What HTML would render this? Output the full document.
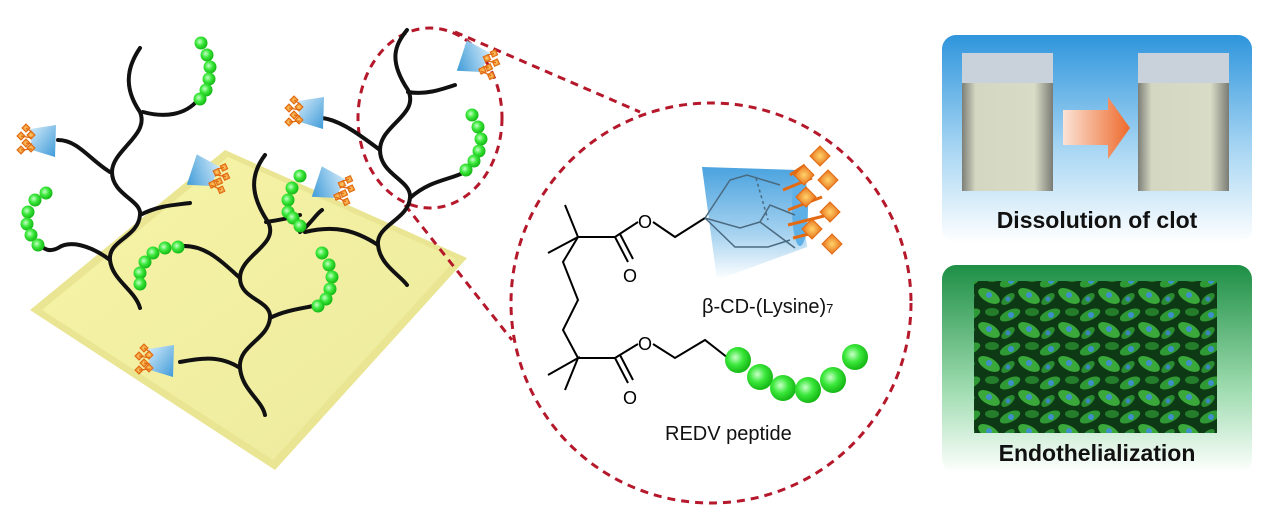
<!DOCTYPE html>
<html><head><meta charset="utf-8"><style>
html,body{margin:0;padding:0;background:#fff;}
svg{display:block;}
text{font-family:"Liberation Sans",sans-serif;}
</style></head><body>
<svg width="1271" height="508" viewBox="0 0 1271 508" xmlns="http://www.w3.org/2000/svg">
<defs>
<linearGradient id="plate" x1="0" y1="0" x2="1" y2="1"><stop offset="0" stop-color="#f7f4a8"/><stop offset="1" stop-color="#ecea9c"/></linearGradient>
<linearGradient id="cone" x1="0" y1="0" x2="1" y2="1"><stop offset="0" stop-color="#d6ecfa"/><stop offset="1" stop-color="#3d9ad8"/></linearGradient>
<linearGradient id="bigcone" x1="0" y1="0" x2="0" y2="1"><stop offset="0" stop-color="#4aa3df"/><stop offset="0.6" stop-color="#a8d3f0"/><stop offset="1" stop-color="#ffffff"/></linearGradient>
<radialGradient id="bead" cx="0.4" cy="0.4" r="0.6"><stop offset="0" stop-color="#c8ffc8"/><stop offset="0.5" stop-color="#3be83b"/><stop offset="1" stop-color="#16b816"/></radialGradient>
<radialGradient id="star" cx="0.5" cy="0.5" r="0.5"><stop offset="0" stop-color="#ffd36b"/><stop offset="1" stop-color="#e8701a"/></radialGradient>
<linearGradient id="pan1" x1="0" y1="0" x2="0" y2="1"><stop offset="0" stop-color="#2f95dc"/><stop offset="0.55" stop-color="#a8d6f3"/><stop offset="1" stop-color="#ffffff"/></linearGradient>
<linearGradient id="pan2" x1="0" y1="0" x2="0" y2="1"><stop offset="0" stop-color="#1e8f45"/><stop offset="0.6" stop-color="#9fdcb0"/><stop offset="1" stop-color="#ffffff"/></linearGradient>
<linearGradient id="arr" x1="0" y1="0" x2="1" y2="0"><stop offset="0" stop-color="#fbe3d6"/><stop offset="1" stop-color="#ee6a2c"/></linearGradient>
<linearGradient id="vial" x1="0" y1="0" x2="1" y2="0"><stop offset="0" stop-color="#7d7f78"/><stop offset="0.15" stop-color="#d4d8c2"/><stop offset="0.8" stop-color="#d8dcc6"/><stop offset="1" stop-color="#7a7b74"/></linearGradient>
<pattern id="cells" width="40" height="34" patternUnits="userSpaceOnUse">
<rect width="40" height="34" fill="#0d3a14"/>
<ellipse cx="10" cy="9" rx="11" ry="5" fill="#2f9a35" transform="rotate(-25 10 9)"/>
<ellipse cx="29" cy="24" rx="12" ry="6" fill="#3aa83a" transform="rotate(30 29 24)"/>
<ellipse cx="32" cy="6" rx="7" ry="4" fill="#247d2a"/>
<ellipse cx="8" cy="27" rx="8" ry="4" fill="#2a8c30" transform="rotate(-40 8 27)"/>
<circle cx="11" cy="9" r="3" fill="#3d8fc8"/><circle cx="29" cy="23" r="3" fill="#3f90c9"/><circle cx="8" cy="27" r="2.5" fill="#3b86bd"/>
</pattern>
<g id="sc">
<path d="M2,-11 L28,-15 L27,17 L4,10 Z" fill="url(#cone)"/>
<g fill="url(#star)" stroke="#e06a10" stroke-width="1">
<path d="M-6,-12 l4,-4 l4,4 l-4,4z"/><path d="M-11,-4 l4,-4 l4,4 l-4,4z"/><path d="M-6,3 l4,-4 l4,4 l-4,4z"/><path d="M-11,10 l4,-4 l4,4 l-4,4z"/><path d="M-1,-5 l4,-4 l4,4 l-4,4z"/><path d="M-1,8 l4,-4 l4,4 l-4,4z"/>
</g>
<g stroke="#e06a10" stroke-width="1.2"><line x1="-2" y1="-12" x2="4" y2="-8"/><line x1="-7" y1="-4" x2="4" y2="-2"/><line x1="-2" y1="3" x2="4" y2="4"/><line x1="-7" y1="10" x2="4" y2="9"/></g>
</g>
<g id="bd"><circle r="6.5" fill="url(#bead)"/></g>
</defs>

<polygon points="225,150 467,258 275,470 30,310" fill="#e9e592"/>
<polygon points="228,157 456,259 273,460 42,310" fill="url(#plate)"/>

<g fill="none" stroke="#b5182a" stroke-width="3" stroke-dasharray="8,6">
<ellipse cx="430" cy="118" rx="72" ry="90"/>
<circle cx="711" cy="303" r="200"/>
<line x1="455" y1="32" x2="640" y2="112"/>
<line x1="405" y1="205" x2="512" y2="340"/>
</g>

<g fill="none" stroke="#111" stroke-width="4" stroke-linecap="round">
<path d="M140,48 C125,70 125,90 140,112 C150,135 112,150 112,172 C112,195 142,200 140,215 C138,238 108,240 110,260 C112,280 135,290 140,308"/>
<path d="M143,112 C165,118 185,115 198,100"/>
<path d="M110,172 C90,160 78,140 58,140"/>
<path d="M140,215 C160,205 175,205 190,203"/>
<path d="M110,260 C90,245 70,240 58,248 C50,252 45,250 40,245"/>
<path d="M265,155 C250,175 250,195 268,222 C280,245 240,255 240,278 C240,300 272,300 270,318 C268,340 238,345 240,368 C242,390 262,400 265,415"/>
<path d="M266,222 C280,220 290,218 300,215"/>
<path d="M240,278 C220,260 205,245 182,246"/>
<path d="M270,318 C285,310 305,308 318,305"/>
<path d="M240,368 C220,355 200,358 180,362"/>
<path d="M407,30 C395,45 388,60 408,90 C420,115 380,125 380,150 C380,175 412,180 410,198 C408,220 376,225 378,245 C380,265 400,275 407,285"/>
<path d="M408,92 C425,95 440,90 455,85"/>
<path d="M380,150 C360,135 340,120 322,118"/>
<path d="M410,198 C430,180 450,180 465,172"/>
<path d="M378,245 C355,230 335,225 305,232"/>
<path d="M300,232 C310,225 315,215 322,210"/>
</g>

<use href="#sc" transform="translate(28,140)"/>
<use href="#sc" transform="translate(218,178) rotate(200) scale(1,-1)"/>
<use href="#sc" transform="translate(296,112)"/>
<use href="#sc" transform="translate(343,190) rotate(200) scale(1,-1)"/>
<use href="#sc" transform="translate(488,64) rotate(200) scale(1,-1)"/>
<use href="#sc" transform="translate(146,360)"/>

<g>
<use href="#bd" x="201" y="43"/><use href="#bd" x="207" y="55"/><use href="#bd" x="210" y="67"/><use href="#bd" x="209" y="79"/><use href="#bd" x="206" y="90"/><use href="#bd" x="200" y="99"/>
<use href="#bd" x="46" y="193"/><use href="#bd" x="35" y="200"/><use href="#bd" x="28" y="212"/><use href="#bd" x="27" y="224"/><use href="#bd" x="31" y="235"/><use href="#bd" x="38" y="245"/>
<use href="#bd" x="300" y="176"/><use href="#bd" x="292" y="188"/><use href="#bd" x="288" y="200"/><use href="#bd" x="288" y="212"/><use href="#bd" x="293" y="218"/><use href="#bd" x="300" y="226"/>
<use href="#bd" x="178" y="247"/><use href="#bd" x="165" y="248"/><use href="#bd" x="153" y="253"/><use href="#bd" x="145" y="262"/><use href="#bd" x="140" y="273"/><use href="#bd" x="140" y="284"/>
<use href="#bd" x="322" y="253"/><use href="#bd" x="329" y="265"/><use href="#bd" x="332" y="277"/><use href="#bd" x="330" y="289"/><use href="#bd" x="326" y="299"/><use href="#bd" x="318" y="306"/>
<use href="#bd" x="472" y="115"/><use href="#bd" x="478" y="127"/><use href="#bd" x="481" y="139"/><use href="#bd" x="479" y="151"/><use href="#bd" x="474" y="161"/><use href="#bd" x="466" y="170"/>
</g>

<g fill="none" stroke="#000" stroke-width="2">
<path d="M565,205 L578,237 L548,253 M578,237 L615,237 L638,222 M615,237 L628,262 M620,234 L633,259 M653,222 L675,237 L705,218"/>
<path d="M578,237 L563,262 L578,300 L563,330 L578,358"/>
<path d="M548,375 L578,358 L565,390 M578,358 L615,358 L638,344 M615,358 L628,383 M620,355 L633,380 M653,344 L675,358 L705,340 L728,358"/>
</g>
<g font-size="18" fill="#000"><text x="638" y="228">O</text><text x="623" y="282">O</text><text x="638" y="350">O</text><text x="623" y="404">O</text></g>
<path d="M702,167 L797,170 L807,247 L717,280 Z" fill="url(#bigcone)"/>
<ellipse cx="800" cy="208" rx="8" ry="38" fill="#5fb0e6"/>
<g fill="none" stroke="#4a6a80" stroke-width="1.5">
<path d="M705,218 L730,180 L747,175 L780,185 M705,218 L740,228 L760,222 L795,248 M705,218 L735,247 L768,247 L790,240 M760,222 L770,205 L795,215"/>
<path d="M756,178 L768,220" stroke-dasharray="3,3"/>
</g>
<g stroke="#e36a12" stroke-width="3"><line x1="783" y1="190" x2="812" y2="178"/><line x1="788" y1="210" x2="822" y2="197"/><line x1="788" y1="225" x2="824" y2="216"/><line x1="793" y1="238" x2="817" y2="232"/><line x1="790" y1="175" x2="805" y2="165"/></g>
<g fill="url(#star)" stroke="#e36a12" stroke-width="1">
<path d="M810,156 l10,-10 l10,10 l-10,10z"/><path d="M818,180 l10,-10 l10,10 l-10,10z"/><path d="M796,197 l10,-10 l10,10 l-10,10z"/><path d="M820,212 l10,-10 l10,10 l-10,10z"/><path d="M802,229 l10,-10 l10,10 l-10,10z"/><path d="M822,244 l10,-10 l10,10 l-10,10z"/><path d="M794,175 l10,-10 l10,10 l-10,10z"/>
</g>
<g>
<circle cx="738" cy="360" r="13" fill="url(#bead)"/><circle cx="760" cy="377" r="13" fill="url(#bead)"/><circle cx="783" cy="388" r="13" fill="url(#bead)"/><circle cx="808" cy="390" r="13" fill="url(#bead)"/><circle cx="833" cy="380" r="13" fill="url(#bead)"/><circle cx="855" cy="357" r="13" fill="url(#bead)"/>
</g>
<text x="702" y="313" font-size="20" fill="#111">β-CD-(Lysine)<tspan font-size="13">7</tspan></text>
<text x="665" y="440" font-size="20" fill="#111">REDV peptide</text>

<rect x="942" y="35" width="310" height="208" rx="14" fill="url(#pan1)"/>
<rect x="962" y="53" width="91" height="138" fill="url(#vial)"/>
<rect x="962" y="53" width="91" height="30" fill="#c9d2db"/>
<rect x="1138" y="53" width="91" height="138" fill="url(#vial)"/>
<rect x="1138" y="53" width="91" height="30" fill="#c9d2db"/>
<polygon points="1063,110 1108,110 1108,97 1130,128 1108,159 1108,145 1063,145" fill="url(#arr)"/>
<text x="1097" y="228" font-size="23" font-weight="bold" text-anchor="middle" fill="#111">Dissolution of clot</text>
<rect x="942" y="265" width="310" height="208" rx="14" fill="url(#pan2)"/>
<rect x="974" y="281" width="243" height="152" fill="url(#cells)"/>
<text x="1097" y="461" font-size="23" font-weight="bold" text-anchor="middle" fill="#111">Endothelialization</text>
</svg>
</body></html>
